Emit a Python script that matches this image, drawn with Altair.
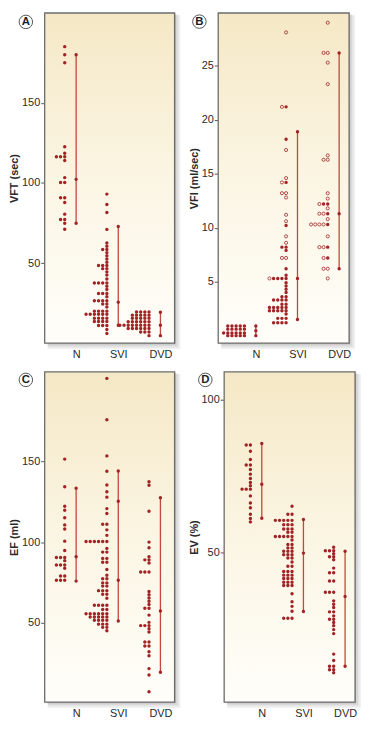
import altair as alt
import pandas as pd

CATS = ["N", "SVI", "DVD"]

# ---------------- Panel A : VFT (sec) ----------------
A_N_V = [185, 180, 175, 122.5, 118.5, 116.3, 114, 103.3, 100.2, 90.7, 87.8, 80.5, 77.2, 74.8, 71.1]
A_N_C = [1, 1, 1, 1, 1, 3, 1, 1, 2, 2, 1, 1, 2, 1, 1]
A_SVI_V = [93, 86.5, 81.5, 71, 62.5, 60.5, 58.5, 56.5, 54.5, 52.5, 50.5, 48.5, 46.5, 44.5, 42.5, 40,
           37.5, 35.5, 33.5, 31, 29, 26.5, 24.5, 22.5, 20, 18, 15.5, 13.5, 11, 8.5, 6]
A_SVI_C = [1, 1, 1, 1, 1, 1, 2, 1, 1, 1, 1, 3, 2, 1, 1, 1, 4, 1, 1, 3, 1, 4, 2, 1, 4, 6, 4, 4, 3, 1, 1]
A_DVD_V = [19.5, 17.5, 15.5, 13.4, 11.2, 9.2, 7.0, 4.7]
A_DVD_C = [4, 5, 5, 6, 8, 6, 3, 1]
A_N_LINE = [74.8, 102.2, 180]
A_SVI_LINE = [11.2, 25.6, 72.8]
A_DVD_LINE = [4.7, 11.2, 19.3]

# ---------------- Panel B : VFI (ml/sec)  (filled / open counts) ----------------
B_N_V = [0.9, 0.6, 0.25, 0.0]
B_N_F = [5, 5, 6, 5]
B_N_O = [0, 0, 0, 0]
B_SVI_V = [28.1, 21.2, 18.2, 17.2, 14.6, 14.2, 13.2, 12.8, 11.2, 10.6, 10.2, 9.2, 8.6, 8.2, 7.9, 7.2,
           6.2, 5.6, 5.3, 4.9, 4.6, 4.3, 4.0, 3.6, 3.3, 2.9, 2.6, 2.3, 2.0, 1.6, 1.2]
B_SVI_F = [0, 1, 1, 0, 0, 1, 0, 0, 0, 0, 1, 0, 0, 2, 1, 0, 1, 1, 4, 1, 1, 1, 1, 2, 4, 2, 5, 5, 1, 3, 4]
B_SVI_O = [1, 1, 0, 1, 1, 1, 2, 1, 1, 1, 0, 1, 1, 0, 0, 2, 0, 0, 1, 0, 0, 0, 0, 0, 0, 0, 0, 0, 0, 0, 0]
B_DVD_V = [29.0, 26.2, 25.3, 23.3, 16.7, 16.3, 13.2, 12.7, 12.2, 11.8, 11.3, 10.8, 10.3, 9.2, 8.2, 7.2, 6.2, 5.3]
B_DVD_F = [0, 0, 0, 0, 0, 0, 0, 0, 2, 0, 1, 0, 1, 0, 1, 1, 0, 0]
B_DVD_O = [1, 2, 1, 1, 1, 2, 1, 1, 1, 1, 2, 1, 4, 1, 2, 1, 2, 1]
B_N_LINE = [0.0, 0.45, 0.9]
B_SVI_LINE = [1.5, 5.3, 18.9]
B_DVD_LINE = [6.2, 11.3, 26.2]

# ---------------- Panel C : EF (ml) ----------------
C_N_V = [151.5, 134.3, 122.2, 119.8, 115.1, 110.7, 108.1, 100.6, 94.8, 90.5, 88.5, 85.8, 83.8, 79, 76.3]
C_N_C = [1, 1, 1, 1, 1, 1, 1, 1, 1, 3, 1, 3, 1, 2, 3]
C_SVI_V = [201.6, 175.9, 153.5, 144, 135.5, 131.3, 127.9, 120.8, 117.8, 111.1, 107.6, 104.2, 100.4, 96.1,
           93.8, 89.9, 87.5, 83, 79.4, 77.3, 74.7, 72.7, 69.9, 67.6, 65.2, 60.8, 58.2, 55.5, 53.5, 51.5,
           49.1, 47.1, 45]
C_SVI_C = [1, 1, 1, 1, 1, 1, 1, 1, 1, 2, 1, 1, 6, 1, 2, 2, 2, 1, 1, 2, 2, 2, 3, 2, 1, 4, 2, 6, 5, 4, 3, 2, 1]
C_DVD_V = [137.5, 135.3, 119.2, 100, 96.5, 90.9, 89, 87, 81.4, 69.3, 67.3, 65.3, 63.3, 61.3, 59, 54.7,
           50.2, 48.2, 46.2, 44.2, 38, 35.5, 32, 29.5, 21.5, 17.5, 7.2]
C_DVD_C = [1, 1, 1, 1, 1, 1, 2, 1, 3, 1, 1, 1, 1, 1, 2, 1, 1, 3, 1, 1, 2, 2, 1, 1, 1, 1, 1]
C_N_LINE = [75.8, 90.9, 133.5]
C_SVI_LINE = [51.1, 76.3, 125.4, 144.1]
C_DVD_LINE = [19.2, 57.2, 127.5]

# ---------------- Panel D : EV (%) ----------------
D_N_V = [85.1, 83.1, 80.4, 78.6, 77.1, 75.6, 74.2, 72.9, 71.8, 70.7, 68.5, 66.2, 64.6, 62.5, 61.1, 60]
D_N_C = [2, 1, 1, 2, 1, 1, 1, 1, 1, 3, 1, 1, 1, 1, 1, 1]
D_SVI_V = [65.1, 62.5, 60.5, 59.1, 57.7, 56.6, 55.2, 54.1, 52.6, 51.5, 50.4, 49.3, 48.2, 46.9, 45.5,
           43.8, 42.6, 41.5, 40.3, 39.2, 36.5, 33.9, 32.4, 30.8, 28.5]
D_SVI_C = [1, 2, 5, 3, 3, 2, 5, 1, 2, 2, 3, 3, 2, 1, 2, 3, 3, 3, 3, 3, 1, 1, 1, 1, 3]
D_DVD_V = [51.7, 50.6, 49.6, 48.6, 47.6, 44.9, 43.4, 40.7, 37, 34.2, 33.1, 32, 30.6, 29.3, 28.2, 27.1,
           26.1, 24.8, 23.5, 16.8, 14.7, 12.8, 11.7, 10.7]
D_DVD_C = [1, 3, 1, 2, 1, 1, 2, 2, 3, 1, 1, 1, 2, 1, 2, 1, 1, 1, 1, 1, 1, 2, 2, 1]
D_N_LINE = [61.2, 72.3, 85.6]
D_SVI_LINE = [30.7, 49.8, 60.8]
D_DVD_LINE = [12.8, 35.6, 50.4]

# ---------------- styling ----------------
WL, WR, H = 131, 132, 333
DOT = "#a02426"
LINE = "#c5463b"
TXT = "#2a2a2a"
LABEL_FONT = "Liberation Sans Narrow, Liberation Sans, Arial, sans-serif"
TITLE_FONT = "Liberation Sans, Arial, sans-serif"
GRAD = {
    "gradient": "linear", "x1": 0, "y1": 0, "x2": 0, "y2": 1,
    "stops": [
        {"offset": 0, "color": "#f5e8c6"},
        {"offset": 0.5, "color": "#fbf5e3"},
        {"offset": 1, "color": "#fffefa"},
    ],
}


def dots_df(groups):
    rows = []
    for pos, g in enumerate(groups, start=1):
        vals, nf = g[0], g[1]
        no = g[2] if len(g) > 2 else [0] * len(vals)
        for v, f, o in zip(vals, nf, no):
            for k in range(f + o):
                rows.append({"pos": pos, "v": v, "k": k, "open": int(k >= f)})
    return pd.DataFrame(rows)


def lines_df(lines):
    seg, pts = [], []
    for pos, vals in enumerate(lines, start=1):
        seg.append({"pos": pos, "lo": min(vals), "hi": max(vals)})
        for v in vals:
            pts.append({"pos": pos, "v": v})
    return pd.DataFrame(seg), pd.DataFrame(pts)


def panel(letter, title, groups, lines, ydom, yticks, x0, ppu, W, ly):
    xdom = [x0, x0 + W / ppu]
    off, step = 11.5 / ppu, 4.2 / ppu
    xs = alt.Scale(domain=xdom, nice=False, zero=False)
    ys = alt.Scale(domain=ydom, nice=False, zero=False)
    labels = "[''," + ",".join("'%s'" % c for c in CATS) + "][datum.value]"
    xax = alt.Axis(values=[1, 2, 3], labelExpr=labels, ticks=False, tickSize=0, domain=False,
                   grid=False, title=None, labelPadding=5, labelFont=LABEL_FONT, labelFontSize=11,
                   labelColor=TXT)
    yax = alt.Axis(values=yticks, title=title, grid=False, domain=False, tickSize=4,
                   tickColor="#555555", tickWidth=1, labelFont=LABEL_FONT, labelFontSize=11,
                   labelColor=TXT, labelPadding=1, titleFont=TITLE_FONT, titleFontSize=11,
                   titleFontWeight="bold", titleColor=TXT, titlePadding=2)
    one = pd.DataFrame({"o": [0]})
    layers = []
    for i in range(1, 5):
        layers.append(alt.Chart(one).mark_rect(color="#3a3a3a", opacity=0.065).encode(
            x=alt.value(3), x2=alt.value(W + 1.5 * i), y=alt.value(0.6 * i), y2=alt.value(H + 1.5 * i)))
    layers.append(alt.Chart(one).mark_rect(fill=GRAD).encode(
        x=alt.value(0), x2=alt.value(W), y=alt.value(0), y2=alt.value(H)))
    seg, pts = lines_df(lines)
    layers.append(alt.Chart(seg).mark_rule(color=LINE, strokeWidth=1.3).encode(
        x=alt.X("pos:Q", scale=xs, axis=xax),
        y=alt.Y("lo:Q", scale=ys, axis=yax), y2="hi:Q"))
    layers.append(alt.Chart(pts).mark_circle(color=DOT, size=12, opacity=1).encode(
        x=alt.X("pos:Q", scale=xs, axis=xax), y=alt.Y("v:Q", scale=ys, axis=yax)))
    d = dots_df(groups)
    base = alt.Chart(d).transform_calculate(xp=f"datum.pos - {off} - datum.k * {step}")
    layers.append(base.transform_filter("datum.open == 0").mark_circle(
        color=DOT, size=12, opacity=1).encode(
        x=alt.X("xp:Q", scale=xs, axis=xax), y=alt.Y("v:Q", scale=ys, axis=yax)))
    if d["open"].sum() > 0:
        layers.append(base.transform_filter("datum.open == 1").mark_point(
            shape="circle", filled=False, color=DOT, size=10, strokeWidth=0.8, opacity=1).encode(
            x=alt.X("xp:Q", scale=xs, axis=xax), y=alt.Y("v:Q", scale=ys, axis=yax)))
    layers.append(alt.Chart(one).mark_rect(fillOpacity=0, stroke="#6c6c6c", strokeWidth=1.3).encode(
        x=alt.value(0), x2=alt.value(W), y=alt.value(0), y2=alt.value(H)))
    layers.append(alt.Chart(one).mark_point(shape="circle", size=185, filled=True, fill="#ffffff",
                                            stroke="#555555", strokeWidth=1, opacity=1).encode(
        x=alt.value(-19), y=alt.value(ly)))
    layers.append(alt.Chart(one).mark_text(text=letter, font=TITLE_FONT, fontSize=11.5,
                                           fontWeight="bold", color="#1e1e1e", align="center",
                                           baseline="middle").encode(
        x=alt.value(-19), y=alt.value(ly + 0.5)))
    return alt.layer(*layers).properties(width=W, height=H)


pA = panel("A", "VFT (sec)", [(A_N_V, A_N_C), (A_SVI_V, A_SVI_C), (A_DVD_V, A_DVD_C)],
           [A_N_LINE, A_SVI_LINE, A_DVD_LINE], [0, 206], [50, 100, 150], 0.254, 42.5, WL, 9)
pB = panel("B", "VFI (ml/sec)", [(B_N_V, B_N_F, B_N_O), (B_SVI_V, B_SVI_F, B_SVI_O),
                                 (B_DVD_V, B_DVD_F, B_DVD_O)],
           [B_N_LINE, B_SVI_LINE, B_DVD_LINE], [-0.7, 29.9], [5, 10, 15, 20, 25], 0.0966, 42.0, WR, 8.7)
pC = panel("C", "EF (ml)", [(C_N_V, C_N_C), (C_SVI_V, C_SVI_C), (C_DVD_V, C_DVD_C)],
           [C_N_LINE, C_SVI_LINE, C_DVD_LINE], [0.7, 205.6], [50, 100, 150], 0.254, 42.5, WL, 8)
pD = panel("D", "EV (%)", [(D_N_V, D_N_C), (D_SVI_V, D_SVI_C), (D_DVD_V, D_DVD_C)],
           [D_N_LINE, D_SVI_LINE, D_DVD_LINE], [1.1, 109], [50, 100], 0.0966, 42.0, WR, 8)

chart = alt.vconcat(
    alt.hconcat(pA, pB, spacing=6),
    alt.hconcat(pC, pD, spacing=6),
    spacing=10,
).properties(padding={"left": 0, "top": 0, "right": 0, "bottom": 0}).configure_view(
    strokeWidth=0
).configure(background="#ffffff")

chart.save("out.html", embed_options={"renderer": "svg", "actions": False})
